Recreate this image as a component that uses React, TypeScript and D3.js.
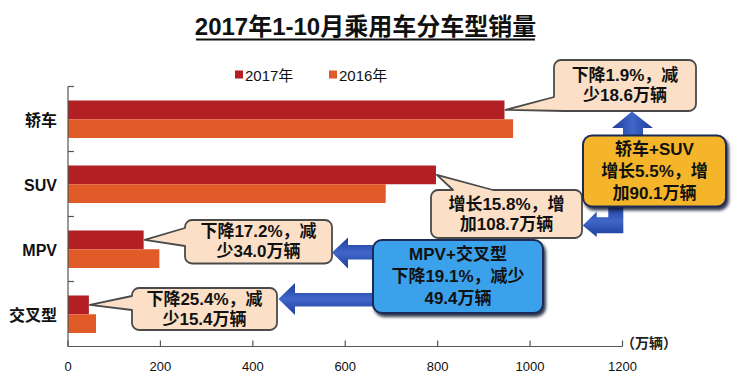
import React from 'react';
import * as d3 from 'd3';

const categories = ['轿车', 'SUV', 'MPV', '交叉型'];
const seriesNames = ['2017年', '2016年'];
const sales2017 = [944.6, 796.3, 163.7, 45.2];
const sales2016 = [963.2, 687.6, 197.7, 60.6];
const xTicks = [0, 200, 400, 600, 800, 1000, 1200];
const titleText = '2017年1-10月乘用车分车型销量';
const unitText = '（万辆）';
const changeNotes = [
  ['下降1.9%，减', '少18.6万辆'],
  ['增长15.8%，增', '加108.7万辆'],
  ['下降17.2%，减', '少34.0万辆'],
  ['下降25.4%，减', '少15.4万辆'],
];
const groupNotes = [
  ['轿车+SUV', '增长5.5%，增', '加90.1万辆'],
  ['MPV+交叉型', '下降19.1%，减少', '49.4万辆'],
];

const W = 738;
const H = 381;
const FONT = '"Liberation Sans", Arial, "Noto Sans CJK SC", sans-serif';
const NARROW = '"Liberation Sans Narrow", "Liberation Sans", "Noto Sans CJK SC", sans-serif';
const C2017 = '#B21F24';
const C2016 = '#E05B28';
const PEACH = '#FBE0C7';
const AXIS = '#555';

function roundRectTail(
  x: number, y: number, w: number, h: number, r: number,
  tail: { edge: 'top' | 'left' | 'corner'; a: number; b: number; tip: [number, number] }
) {
  const p = d3.path();
  const [tx, ty] = tail.tip;
  p.moveTo(x + r, y);
  if (tail.edge === 'top') {
    p.lineTo(tail.a, y);
    p.lineTo(tx, ty);
    p.lineTo(tail.b, y);
  }
  p.lineTo(x + w - r, y);
  p.arcTo(x + w, y, x + w, y + r, r);
  p.lineTo(x + w, y + h - r);
  p.arcTo(x + w, y + h, x + w - r, y + h, r);
  if (tail.edge === 'corner') {
    p.lineTo(x + tail.a, y + h);
    p.lineTo(tx, ty);
    p.lineTo(x, y + h - tail.b);
  } else {
    p.lineTo(x + r, y + h);
    p.arcTo(x, y + h, x, y + h - r, r);
    if (tail.edge === 'left') {
      p.lineTo(x, tail.b);
      p.lineTo(tx, ty);
      p.lineTo(x, tail.a);
    }
  }
  p.lineTo(x, y + r);
  p.arcTo(x, y, x + r, y, r);
  p.closePath();
  return p.toString();
}

export default function App() {
  const x = d3.scaleLinear().domain([0, 1200]).range([68, 622.5]);
  const y = d3.scaleBand<string>().domain(categories).range([86.5, 346.5]);
  const ys = d3.scaleBand<string>().domain(seriesNames).range([14, 51.5]);
  const bw = ys.bandwidth();
  const values = [sales2017, sales2016];
  const colors = [C2017, C2016];

  const tipOf = (i: number): [number, number] => [
    x(sales2017[i]) + 1,
    (y(categories[i]) as number) + (ys('2017年') as number) + bw / 2,
  ];

  const callouts = [
    { x: 554, y: 60, w: 142, h: 51, tail: { edge: 'corner' as const, a: 10, b: 14, tip: tipOf(0) } },
    { x: 431, y: 190, w: 151, h: 48, tail: { edge: 'top' as const, a: 453, b: 493, tip: tipOf(1) } },
    { x: 185, y: 220, w: 147, h: 43.5, tail: { edge: 'left' as const, a: 228, b: 246, tip: tipOf(2) } },
    { x: 132, y: 288, w: 145, h: 42, tail: { edge: 'left' as const, a: 296, b: 310, tip: tipOf(3) } },
  ];

  const groupBoxes = [
    { x: 583, y: 135.5, w: 143, h: 71, fill: '#F5B52B' },
    { x: 373, y: 240, w: 170, h: 73, fill: '#3AA1EB' },
  ];

  const arrows = [
    // up arrow to sedan note
    [[623, 137], [623, 128], [612, 128], [632, 111.5], [653, 128], [643, 128], [643, 137]],
    // elbow arrow to SUV note
    [[623.3, 205], [623.3, 233.3], [596.7, 233.3], [596.7, 237], [582.7, 225.5], [596.7, 211.7], [596.7, 217.3], [608.3, 217.3], [608.3, 205]],
    // to MPV note
    [[375, 245], [348, 245], [348, 237.5], [332, 252.5], [348, 268.5], [348, 259.5], [375, 259.5]],
    // to crossover note
    [[375, 293], [295, 293], [295, 283], [278.5, 299], [295, 315], [295, 306.5], [375, 306.5]],
  ];
  const line = d3.line();

  return (
    <svg width={W} height={H} style={{ position: 'absolute', left: 0, top: 0, background: '#fff' }} fontFamily={FONT}>
      <defs>
        <linearGradient id="arrH" x1="0" y1="0" x2="0" y2="1">
          <stop offset="0" stopColor="#1E3C9A" />
          <stop offset="0.5" stopColor="#3F67C9" />
          <stop offset="1" stopColor="#1E3C9A" />
        </linearGradient>
        <linearGradient id="arrV" x1="0" y1="0" x2="1" y2="0">
          <stop offset="0" stopColor="#1E3C9A" />
          <stop offset="0.5" stopColor="#3F67C9" />
          <stop offset="1" stopColor="#1E3C9A" />
        </linearGradient>
        <filter id="shadow" x="-10%" y="-10%" width="130%" height="140%">
          <feDropShadow dx="2" dy="3" stdDeviation="1.5" floodColor="#0B1530" floodOpacity="0.85" />
        </filter>
      </defs>

      {/* title */}
      <text x={365.5} y={35} textAnchor="middle" fontSize={24} fontWeight="bold" fill="#111">{titleText}</text>
      <line x1={196} x2={535} y1={39.5} y2={39.5} stroke="#111" strokeWidth={2} />

      {/* legend */}
      {seriesNames.map((s, i) => (
        <g key={s} transform={`translate(${i === 0 ? 235 : 329},0)`}>
          <rect x={0} y={70.5} width={8} height={8} fill={colors[i]} />
          <text x={10} y={75} dominantBaseline="central" fontSize={15} fill="#111">{s}</text>
        </g>
      ))}

      {/* bars */}
      {categories.map((c, ci) => (
        <g key={c}>
          {seriesNames.map((s, si) => (
            <rect key={s} x={x(0)} y={(y(c) as number) + (ys(s) as number)} width={x(values[si][ci]) - x(0)} height={bw} fill={colors[si]} />
          ))}
        </g>
      ))}

      {/* axes */}
      <line x1={x(0)} x2={x(0)} y1={86.5} y2={346.5} stroke={AXIS} strokeWidth={1.2} />
      {categories.map((c) => (
        <line key={c} x1={x(0)} x2={x(0) + 6} y1={y(c) as number} y2={y(c) as number} stroke={AXIS} strokeWidth={1.2} />
      ))}
      <line x1={x(0)} x2={x(1200)} y1={346.5} y2={346.5} stroke={AXIS} strokeWidth={1.2} />
      {xTicks.map((t) => (
        <g key={t}>
          <line x1={x(t)} x2={x(t)} y1={346.5} y2={340.5} stroke={AXIS} strokeWidth={1.2} />
          <text x={x(t)} y={366} textAnchor="middle" dominantBaseline="central" fontSize={13} fill="#111">{t}</text>
        </g>
      ))}
      <text x={621} y={343} dominantBaseline="central" fontSize={14} fontWeight="bold" fill="#222">{unitText}</text>

      {categories.map((c) => (
        <text key={c} x={57} y={(y(c) as number) + y.bandwidth() / 2 + 1} textAnchor="end" dominantBaseline="central" fontSize={16} fontWeight="bold" fill="#111" fontFamily={/[A-Z]/.test(c) ? NARROW : FONT}>{c}</text>
      ))}

      {/* arrows */}
      {arrows.map((pts, i) => (
        <path key={i} d={line(pts as [number, number][]) + 'Z'} fill={i === 0 ? 'url(#arrV)' : 'url(#arrH)'} />
      ))}

      {/* callouts */}
      {callouts.map((c, i) => (
        <g key={i}>
          <path d={roundRectTail(c.x, c.y, c.w, c.h, 7, c.tail)} fill={PEACH} stroke="#4a4a4a" strokeWidth={1.8} strokeLinejoin="round" />
          {changeNotes[i].map((t, li) => (
            <text key={li} x={c.x + c.w / 2} y={c.y + c.h / 2 + (li === 0 ? -10 : 10)} textAnchor="middle" dominantBaseline="central" fontSize={17} fontWeight="bold" fill="#111">{t}</text>
          ))}
        </g>
      ))}

      {/* group boxes */}
      {groupBoxes.map((b, i) => (
        <g key={i}>
          <rect x={b.x} y={b.y} width={b.w} height={b.h} rx={9} fill={b.fill} stroke="#1C2A55" strokeWidth={2} filter="url(#shadow)" />
          {groupNotes[i].map((t, li) => (
            <text key={li} x={b.x + b.w / 2} y={b.y + b.h / 2 + (li - 1) * 22} textAnchor="middle" dominantBaseline="central" fontSize={17} fontWeight="bold" fill="#111">{t}</text>
          ))}
        </g>
      ))}
    </svg>
  );
}
